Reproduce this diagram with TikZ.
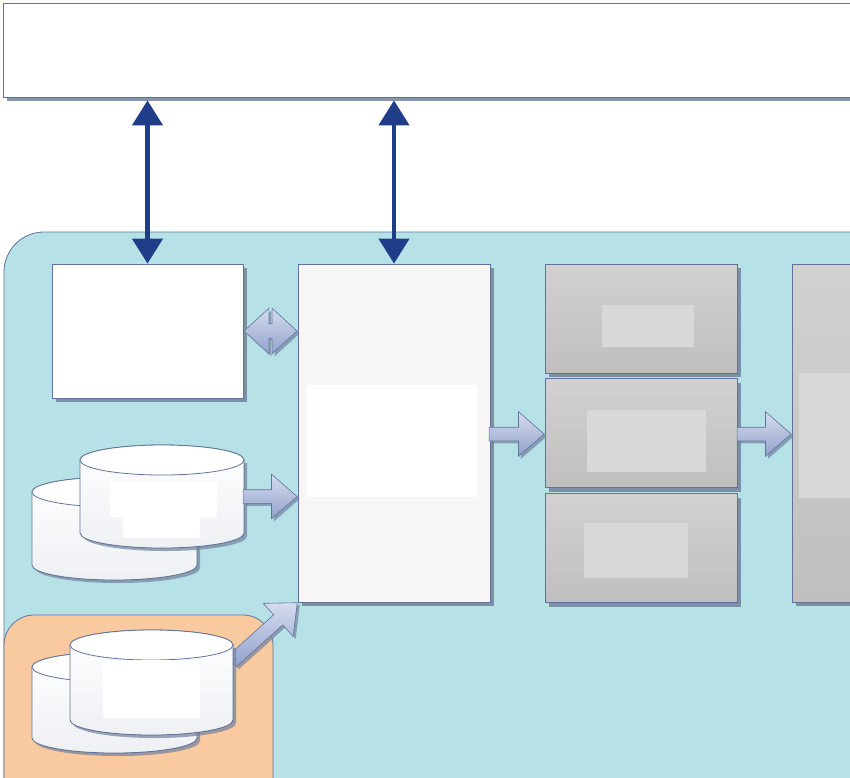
\documentclass[tikz,border=0pt]{standalone}
\usetikzlibrary{shapes.geometric, shapes.arrows, arrows.meta, positioning, calc, shadows}

\definecolor{panelblue}{HTML}{B5E1E7}
\definecolor{panelorange}{HTML}{F9C9A0}
\definecolor{linkblue}{HTML}{1F3D88}
\definecolor{edgeblue}{HTML}{60749B}
\definecolor{shadowblue}{HTML}{72819C}
\definecolor{arrowlight}{HTML}{D5DCEF}
\definecolor{arrowdark}{HTML}{93A2CC}
\definecolor{greytop}{HTML}{D3D1CF}
\definecolor{greybot}{HTML}{C1BFBD}
\definecolor{greyin}{HTML}{DAD8D6}
\definecolor{paper}{HTML}{F8F6F5}
\definecolor{drum}{HTML}{EEF0F4}

% data store: name, centre x, centre y, width, height
\newcommand{\datadrum}[5]{%
  \node [rectangle, inner sep=0pt, minimum width=#4pt, minimum height=#5pt] (#1) at (#2,#3) {};
  \fill [shadowblue, opacity=0.7] ({#2-#4/2+3},{#3-#5/2+18}) -- ({#2-#4/2+3},{#3+#5/2-12})
    arc [start angle=180, end angle=0, x radius=#4/2, y radius=15] -- ({#2+#4/2+3},{#3-#5/2+18}) -- cycle;
  \filldraw [drumbody] ({#2-#4/2},{#3-#5/2+15}) -- ({#2-#4/2},{#3+#5/2-15})
    arc [start angle=180, end angle=0, x radius=#4/2, y radius=15] -- ({#2+#4/2},{#3-#5/2+15})
    arc [start angle=0, end angle=-180, x radius=#4/2, y radius=15] -- cycle;
  \filldraw [drumtop] (#2,{#3-#5/2+15}) ellipse [x radius=#4/2, y radius=15];
}

\begin{document}
\begin{tikzpicture}[x=1pt, y=-1pt,
    box/.style={rectangle, draw=edgeblue, line width=0.8pt, inner sep=0pt,
      drop shadow={shadow xshift=4pt, shadow yshift=-4pt, fill=shadowblue, opacity=0.85}},
    greybox/.style={box, top color=greytop, bottom color=greybot},
    mask/.style={rectangle, inner sep=0pt},
    drumbody/.style={draw=edgeblue, line width=0.8pt, top color=white, bottom color=drum},
    drumtop/.style={draw=edgeblue, line width=0.8pt, fill=white},
    fatarrow/.style={single arrow, draw=edgeblue, line width=0.6pt, inner xsep=0pt, inner ysep=6.5pt,
      single arrow head extend=15.5pt, single arrow tip angle=82, top color=arrowlight, bottom color=arrowdark,
      drop shadow={shadow xshift=2.5pt, shadow yshift=-2.5pt, fill=shadowblue, opacity=0.7}},
    linkarrow/.style={{Triangle[width=30pt,length=25pt]}-{Triangle[width=30pt,length=25pt]}, line width=4.5pt, color=linkblue}]

  \clip (0,0) rectangle (850,777);
  \useasboundingbox (0,0) rectangle (850,777);

  % frame of the picture
  \node [box, fill=white, minimum width=900pt, minimum height=94pt] (topbar) at (453,50) {};
  \node [rectangle, draw=edgeblue, line width=0.8pt, fill=panelblue, rounded corners=40pt,
         minimum width=900pt, minimum height=600pt] (panel) at (454,532) {};
  \node [rectangle, draw=edgeblue, line width=0.8pt, fill=panelorange, rounded corners=30pt,
         minimum width=269pt, minimum height=200pt] (local) at (138.5,715) {};

  % boxes
  \node [box, fill=white, minimum width=191pt, minimum height=134pt] (boxA) at (147.5,331) {};
  \node [box, fill=paper, minimum width=192pt, minimum height=338pt] (boxB) at (394,433) {};
  \node [mask, fill=white, minimum width=170pt, minimum height=112pt] (boxBin) at (392,441) {};

  \node [greybox, minimum width=192pt, minimum height=109pt] (c1) at (641,318.5) {};
  \node [greybox, minimum width=192pt, minimum height=109pt, below=5pt of c1] (c2) {};
  \node [greybox, minimum width=192pt, minimum height=109pt, below=5pt of c2] (c3) {};
  \node [mask, fill=greyin, minimum width=92pt, minimum height=42pt] (c1in) at (648,326) {};
  \node [mask, fill=greyin, minimum width=119pt, minimum height=62pt] (c2in) at (646.5,441) {};
  \node [mask, fill=greyin, minimum width=104pt, minimum height=55pt] (c3in) at (636,550.5) {};

  \node [greybox, minimum width=208pt, minimum height=338pt] (boxD) at (896,433) {};
  \node [mask, fill=greyin, minimum width=102pt, minimum height=125pt] (boxDin) at (850,435.5) {};

  % data stores
  \datadrum{drumA2}{114.5}{528.5}{165}{103}
  \datadrum{drumA1}{162}{496.5}{164}{103}
  \node [mask, fill=white, minimum width=107pt, minimum height=35pt] (drumA1in) at (163.5,499.5) {};
  \node [mask, fill=white, minimum width=77pt, minimum height=22pt] (drumA1lo) at (161.5,527) {};

  \node [fatarrow, minimum height=88pt, rotate=42, anchor=tip] (arrLocal) at (boxB.south west) {};

  \datadrum{drumB2}{114.5}{702.5}{165}{101}
  \datadrum{drumB1}{151.5}{682.5}{163}{105}
  \node [mask, fill=white, minimum width=97pt, minimum height=58pt] (drumB1in) at (151.5,689) {};

  % links
  \draw [linkarrow, shorten <=3pt] (boxA.north |- topbar.south) -- (boxA.north);
  \draw [linkarrow, shorten <=3pt] (boxB.north |- topbar.south) -- (boxB.north);

  \node [double arrow, draw=edgeblue, line width=0.6pt, inner xsep=0pt, inner ysep=7pt,
         double arrow head extend=15.5pt, double arrow tip angle=85, top color=arrowlight, bottom color=arrowdark,
         minimum height=53pt,
         drop shadow={shadow xshift=2.5pt, shadow yshift=-2.5pt, fill=shadowblue, opacity=0.7}]
         (arrAB) at ($(boxA.east)!0.5!(boxB.west |- boxA.east)$) {};
  \node [fatarrow, minimum height=54pt, anchor=tip] (arrStore) at (boxB.west |- drumA1.center) {};
  \node [fatarrow, minimum height=55pt, anchor=tip] (arrBC) at (c2.west |- 0,434) {};
  \node [fatarrow, minimum height=54pt, anchor=tip] (arrCD) at (boxD.west |- 0,434) {};
\end{tikzpicture}
\end{document}
